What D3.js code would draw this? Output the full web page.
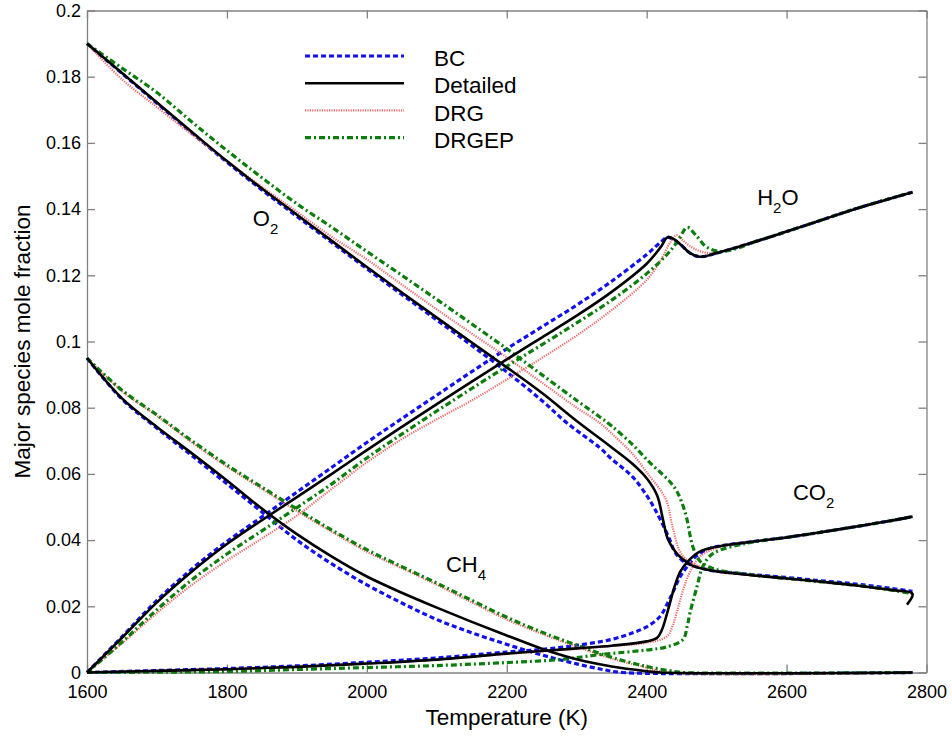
<!DOCTYPE html>
<html>
<head>
<meta charset="utf-8">
<script src="https://cdn.jsdelivr.net/npm/d3@7"></script>
<style>
  html, body { margin: 0; padding: 0; background: #fff; }
  svg { display: block; font-family: "Liberation Sans", Arial, Helvetica, sans-serif; }
</style>
</head>
<body>
<svg id="chart" width="952" height="738"></svg>
<script>
// ---- axis ticks ----
const xTicks = [1600, 1800, 2000, 2200, 2400, 2600, 2800];
const yTicks = [0, 0.02, 0.04, 0.06, 0.08, 0.1, 0.12, 0.14, 0.16, 0.18, 0.2];
const yTickLabels = ["0", "0.02", "0.04", "0.06", "0.08", "0.1", "0.12", "0.14", "0.16", "0.18", "0.2"];

// ---- mechanisms (legend order) ----
const methods = ["BC", "Detailed", "DRG", "DRGEP"];

// ---- O2 mole fraction vs temperature [K, X] ----
const o2BC = [[1600,0.190],[1650,0.1810],[1700,0.1720],[1750,0.1630],[1800,0.1542],[1850,0.1458],[1900,0.1378],[1950,0.1299],[2000,0.1220],[2050,0.1142],[2100,0.1065],[2150,0.0988],[2200,0.0908],[2250,0.0822],[2286,0.0754],[2333,0.0679],[2350,0.0645],[2380,0.0591],[2400,0.0535],[2410,0.0500],[2420,0.0460],[2433,0.0401],[2440,0.0365],[2450,0.0340],[2462,0.0326],[2486,0.0311],[2500,0.0306],[2550,0.0296],[2600,0.0287],[2650,0.0277],[2700,0.0267],[2750,0.0254],[2780,0.0245]];
const o2Detailed = [[1600,0.190],[1650,0.1811],[1700,0.1722],[1750,0.1633],[1800,0.1545],[1850,0.1462],[1900,0.1383],[1950,0.1304],[2000,0.1225],[2050,0.1148],[2100,0.1072],[2150,0.0997],[2200,0.0922],[2250,0.0845],[2300,0.0760],[2350,0.0680],[2380,0.0630],[2400,0.0587],[2415,0.0535],[2423,0.0465],[2430,0.0405],[2440,0.0368],[2450,0.0345],[2466,0.0322],[2485,0.0311],[2500,0.0305],[2550,0.0294],[2600,0.0284],[2650,0.0274],[2700,0.0263],[2750,0.0249],[2780,0.0238],[2772,0.0205]];
const o2DRG = [[1600,0.190],[1650,0.1792],[1700,0.1708],[1750,0.1625],[1800,0.1545],[1850,0.1467],[1900,0.1392],[1950,0.1316],[2000,0.1248],[2050,0.1172],[2100,0.1097],[2150,0.1024],[2200,0.0952],[2250,0.0876],[2300,0.0800],[2333,0.0754],[2350,0.0722],[2380,0.0660],[2405,0.0591],[2420,0.0550],[2429,0.0515],[2437,0.0440],[2447,0.0368],[2457,0.0341],[2476,0.0320],[2500,0.0307],[2550,0.0294],[2600,0.0284],[2650,0.0274],[2700,0.0263],[2750,0.0249],[2780,0.0238]];
const o2DRGEP = [[1600,0.190],[1650,0.1826],[1700,0.1752],[1750,0.1663],[1800,0.1577],[1850,0.1495],[1900,0.1416],[1950,0.1345],[2000,0.1272],[2050,0.1200],[2100,0.1127],[2150,0.1053],[2200,0.0978],[2250,0.0900],[2300,0.0822],[2333,0.0772],[2350,0.0745],[2380,0.0688],[2405,0.0633],[2423,0.0598],[2435,0.0572],[2443,0.0548],[2450,0.0515],[2457,0.0468],[2466,0.0380],[2476,0.0337],[2490,0.0318],[2505,0.0308],[2550,0.0295],[2600,0.0284],[2650,0.0274],[2700,0.0263],[2750,0.0249],[2780,0.0238]];

// ---- H2O ----
const h2oBC = [[1600,0],[1650,0.0108],[1700,0.0218],[1750,0.0313],[1800,0.0396],[1850,0.0470],[1900,0.0545],[1950,0.0620],[2000,0.0695],[2050,0.0767],[2100,0.0838],[2150,0.0909],[2200,0.0978],[2250,0.1044],[2300,0.1110],[2350,0.1182],[2400,0.1263],[2420,0.1300],[2430,0.1315],[2440,0.1305],[2450,0.1290],[2462,0.1267],[2476,0.1256],[2500,0.1267],[2550,0.1298],[2600,0.1332],[2650,0.1367],[2700,0.1402],[2750,0.1433],[2780,0.1451]];
const h2oDetailed = [[1600,0],[1650,0.0105],[1700,0.0212],[1750,0.0305],[1800,0.0388],[1850,0.0460],[1900,0.0530],[1950,0.0600],[2000,0.0672],[2050,0.0742],[2100,0.0811],[2150,0.0879],[2200,0.0946],[2250,0.1012],[2300,0.1078],[2350,0.1150],[2400,0.1235],[2420,0.1285],[2430,0.1315],[2440,0.1308],[2450,0.1290],[2462,0.1267],[2476,0.1256],[2500,0.1267],[2550,0.1298],[2600,0.1332],[2650,0.1367],[2700,0.1402],[2750,0.1433],[2780,0.1451]];
const h2oDRG = [[1600,0],[1650,0.0088],[1700,0.0180],[1750,0.0265],[1800,0.0338],[1850,0.0405],[1900,0.0474],[1950,0.0555],[2000,0.0635],[2050,0.0705],[2100,0.0765],[2150,0.0822],[2200,0.0885],[2250,0.0950],[2300,0.1018],[2350,0.1095],[2400,0.1186],[2420,0.1245],[2433,0.1297],[2443,0.1321],[2452,0.1305],[2462,0.1288],[2476,0.1273],[2495,0.1267],[2520,0.1280],[2550,0.1298],[2600,0.1332],[2650,0.1367],[2700,0.1402],[2750,0.1433],[2780,0.1451]];
const h2oDRGEP = [[1600,0],[1650,0.0092],[1700,0.0190],[1750,0.0280],[1800,0.0358],[1850,0.0428],[1900,0.0498],[1950,0.0570],[2000,0.0648],[2050,0.0720],[2100,0.0790],[2150,0.0858],[2200,0.0925],[2250,0.0990],[2300,0.1056],[2350,0.1125],[2400,0.1205],[2430,0.1265],[2445,0.1305],[2458,0.1345],[2470,0.1322],[2486,0.1285],[2505,0.1272],[2530,0.1282],[2550,0.1298],[2600,0.1332],[2650,0.1367],[2700,0.1402],[2750,0.1433],[2780,0.1451]];

// ---- CH4 ----
const ch4BC = [[1600,0.095],[1650,0.0826],[1700,0.0738],[1750,0.0655],[1800,0.0570],[1850,0.0485],[1900,0.0400],[1950,0.0328],[2000,0.0265],[2050,0.0210],[2100,0.0160],[2150,0.0120],[2200,0.0085],[2250,0.0053],[2300,0.0026],[2340,0.0008],[2365,0],[2780,0]];
const ch4Detailed = [[1600,0.095],[1650,0.0828],[1700,0.0742],[1750,0.0662],[1800,0.0580],[1850,0.0495],[1900,0.0418],[1950,0.0350],[2000,0.0290],[2050,0.0241],[2100,0.0196],[2150,0.0153],[2200,0.0112],[2250,0.0072],[2300,0.0040],[2350,0.0018],[2400,0.0004],[2420,0],[2780,0]];
const ch4DRG = [[1600,0.095],[1650,0.0850],[1700,0.0775],[1750,0.0695],[1800,0.0622],[1850,0.0555],[1900,0.0488],[1950,0.0425],[2000,0.0365],[2050,0.0315],[2100,0.0265],[2150,0.0212],[2200,0.0160],[2250,0.0117],[2300,0.0078],[2350,0.0042],[2400,0.0015],[2430,0],[2780,0]];
const ch4DRGEP = [[1600,0.095],[1650,0.0853],[1700,0.0778],[1750,0.0700],[1800,0.0627],[1850,0.0560],[1900,0.0494],[1950,0.0430],[2000,0.0371],[2050,0.0320],[2100,0.0270],[2150,0.0218],[2200,0.0167],[2250,0.0122],[2300,0.0083],[2350,0.0046],[2400,0.0018],[2440,0.0003],[2450,0],[2780,0]];

// ---- CO2 ----
const co2BC = [[1600,0],[1700,0.0006],[1800,0.0012],[1900,0.0020],[2000,0.0031],[2100,0.0044],[2200,0.0062],[2250,0.0070],[2300,0.0082],[2350,0.0100],[2380,0.0120],[2400,0.0138],[2419,0.0169],[2430,0.0210],[2438,0.0245],[2448,0.0290],[2458,0.0320],[2470,0.0350],[2490,0.0375],[2510,0.0384],[2550,0.0395],[2600,0.0408],[2650,0.0424],[2700,0.0441],[2750,0.0459],[2780,0.0471]];
const co2Detailed = [[1600,0],[1700,0.0005],[1800,0.0010],[1900,0.0017],[2000,0.0027],[2100,0.0039],[2200,0.0057],[2250,0.0065],[2300,0.0073],[2350,0.0081],[2400,0.0094],[2415,0.0105],[2422,0.0130],[2430,0.0185],[2440,0.0260],[2448,0.0305],[2460,0.0338],[2476,0.0365],[2500,0.0380],[2550,0.0395],[2600,0.0408],[2650,0.0424],[2700,0.0441],[2750,0.0459],[2780,0.0471]];
const co2DRG = [[1600,0],[1650,0.0003],[1700,0.0005],[1800,0.0010],[1900,0.0017],[2000,0.0027],[2100,0.0039],[2200,0.0056],[2300,0.0071],[2350,0.0080],[2400,0.0090],[2429,0.0109],[2437,0.0140],[2443,0.0181],[2450,0.0235],[2457,0.0280],[2466,0.0320],[2476,0.0350],[2490,0.0368],[2510,0.0382],[2550,0.0395],[2600,0.0408],[2650,0.0424],[2700,0.0441],[2750,0.0459],[2780,0.0471]];
const co2DRGEP = [[1600,0],[1700,0.0001],[1800,0.0003],[1900,0.0009],[2000,0.0015],[2100,0.0021],[2200,0.0030],[2276,0.0039],[2333,0.0054],[2400,0.0068],[2430,0.0078],[2452,0.0100],[2458,0.0140],[2462,0.0181],[2472,0.0260],[2480,0.0320],[2492,0.0355],[2505,0.0370],[2533,0.0386],[2560,0.0397],[2600,0.0408],[2650,0.0424],[2700,0.0441],[2750,0.0459],[2780,0.0471]];

// ---- species annotations (text pieces, subscript flag, anchor T, anchor X) ----
const speciesText = [
  { parts: [["O", false], ["2", true]], T: 1837, X: 0.1349 },
  { parts: [["H", false], ["2", true], ["O", false]], T: 2558, X: 0.1412 },
  { parts: [["CO", false], ["2", true]], T: 2609, X: 0.0521 },
  { parts: [["CH", false], ["4", true]], T: 2113, X: 0.0304 }
];

// ---- styles per mechanism ----
const styles = {
  BC:       { color: "#1010f0", width: 3.2, dash: "5,3" },
  Detailed: { color: "#000000", width: 2.6, dash: null },
  DRG:      { color: "#f06a6a", width: 2.2, dash: "1.2,1.2" },
  DRGEP:    { color: "#0a7d0a", width: 3.2, dash: "6,3,2,3" }
};

const seriesByMethod = {
  BC:       [o2BC, h2oBC, ch4BC, co2BC],
  Detailed: [o2Detailed, h2oDetailed, ch4Detailed, co2Detailed],
  DRG:      [o2DRG, h2oDRG, ch4DRG, co2DRG],
  DRGEP:    [o2DRGEP, h2oDRGEP, ch4DRGEP, co2DRGEP]
};

const svg = d3.select("#chart");
const plotLeft = 87, plotRight = 926.5, plotTop = 10.5, plotBottom = 672.5;

const x = d3.scaleLinear().domain([1600, 2800]).range([plotLeft, plotRight]);
const y = d3.scaleLinear().domain([0, 0.2]).range([plotBottom, plotTop]);

const axisColor = "#808080";
const tickFont = "18px";

// frame with inward ticks on all four sides
function styleAxis(g) {
  g.select(".domain").attr("stroke", axisColor).attr("stroke-width", 1.3);
  g.selectAll(".tick line").attr("stroke", axisColor).attr("stroke-width", 1.3);
  g.selectAll(".tick text").attr("fill", "#000").style("font-size", tickFont)
    .style("font-family", "'Liberation Sans', Arial, Helvetica, sans-serif");
}

svg.append("g").attr("transform", `translate(0,${plotBottom})`)
  .call(d3.axisBottom(x).tickValues(xTicks).tickFormat(d3.format("d")).tickSizeInner(-8).tickSizeOuter(0).tickPadding(13))
  .call(styleAxis);
svg.append("g").attr("transform", `translate(0,${plotTop})`)
  .call(d3.axisTop(x).tickValues(xTicks).tickFormat("").tickSizeInner(-8).tickSizeOuter(0))
  .call(styleAxis);
svg.append("g").attr("transform", `translate(${plotLeft},0)`)
  .call(d3.axisLeft(y).tickValues(yTicks).tickFormat((d, i) => yTickLabels[i]).tickSizeInner(-8).tickSizeOuter(0).tickPadding(6))
  .call(styleAxis);
svg.append("g").attr("transform", `translate(${plotRight},0)`)
  .call(d3.axisRight(y).tickValues(yTicks).tickFormat("").tickSizeInner(-8).tickSizeOuter(0))
  .call(styleAxis);

// axis titles
svg.append("text")
  .attr("x", (plotLeft + plotRight) / 2).attr("y", 725)
  .attr("text-anchor", "middle").style("font-size", "22.5px")
  .text("Temperature (K)");
svg.append("text")
  .attr("transform", `translate(30,${(plotTop + plotBottom) / 2}) rotate(-90)`)
  .attr("text-anchor", "middle").style("font-size", "22.5px")
  .text("Major species mole fraction");

// curves
const line = d3.line()
  .x(d => x(d[0])).y(d => y(d[1]))
  .curve(d3.curveCatmullRom.alpha(0.5));

const drawOrder = ["BC", "DRG", "DRGEP", "Detailed"];
const curves = svg.append("g");
drawOrder.forEach(m => {
  const s = styles[m];
  seriesByMethod[m].forEach(data => {
    curves.append("path")
      .datum(data)
      .attr("d", line)
      .attr("fill", "none")
      .attr("stroke", s.color)
      .attr("stroke-width", s.width)
      .attr("stroke-dasharray", s.dash)
      .attr("stroke-linejoin", "round");
  });
});

// species annotations with subscripts
speciesText.forEach(lbl => {
  const t = svg.append("text")
    .attr("x", x(lbl.T)).attr("y", y(lbl.X))
    .style("font-size", "22px");
  lbl.parts.forEach(([txt, sub], i) => {
    const prevSub = i > 0 && lbl.parts[i - 1][1];
    const span = t.append("tspan").text(txt);
    if (sub) span.attr("dy", 8).style("font-size", "15px");
    else if (prevSub) span.attr("dy", -8);
  });
});

// legend
const legend = svg.append("g");
methods.forEach((m, i) => {
  const s = styles[m];
  const ly = 56 + i * 27.2;
  legend.append("line")
    .attr("x1", 305).attr("x2", 404)
    .attr("y1", ly).attr("y2", ly)
    .attr("stroke", s.color)
    .attr("stroke-width", s.width)
    .attr("stroke-dasharray", s.dash);
  legend.append("text")
    .attr("x", 434).attr("y", 66 + i * 27.4)
    .style("font-size", "22.5px")
    .text(m);
});
</script>
</body>
</html>
